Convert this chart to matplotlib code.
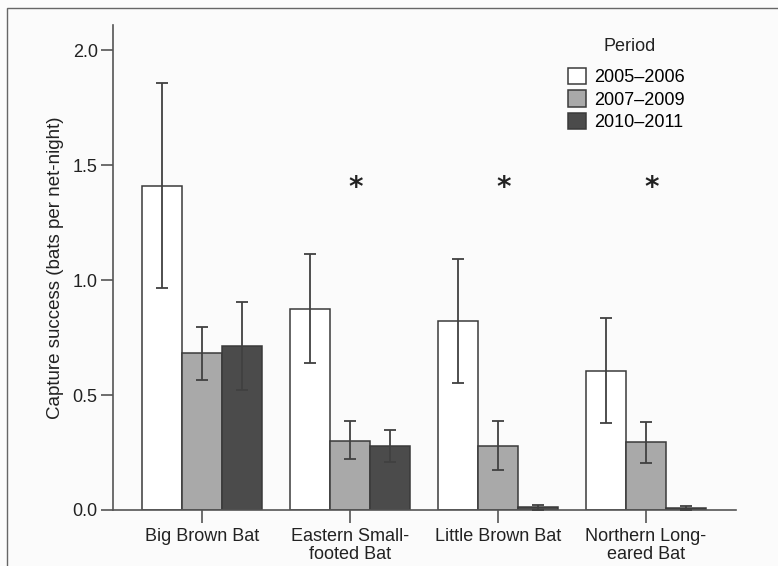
import matplotlib.pyplot as plt
import matplotlib.patches as mpatches
import numpy as np

plt.rcParams['font.family'] = ['Liberation Sans', 'DejaVu Sans']

# Datos
especies = ['Big Brown Bat', 'Eastern Small-\nfooted Bat', 'Little Brown Bat', 'Northern Long-\neared Bat']
periodos = ['2005\u20132006', '2007\u20132009', '2010\u20132011']

media_2005 = [1.41, 0.875, 0.822, 0.605]
media_2007 = [0.683, 0.30, 0.28, 0.296]
media_2010 = [0.713, 0.28, 0.012, 0.008]

inf_2005 = [0.965, 0.639, 0.552, 0.378]
sup_2005 = [1.855, 1.113, 1.091, 0.835]
inf_2007 = [0.567, 0.222, 0.172, 0.204]
sup_2007 = [0.796, 0.387, 0.386, 0.383]
inf_2010 = [0.522, 0.210, 0.002, 0.002]
sup_2010 = [0.904, 0.350, 0.022, 0.016]

significativo = [False, True, True, True]

colores = ['white', '#a9a9a9', '#4b4b4b']
borde = '#3a3a3a'
gris_eje = '#555555'

fig = plt.figure(figsize=(7.78, 5.66), dpi=100)
fig.patch.set_facecolor('#fbfbfb')
ax = fig.add_axes([113 / 778, 56 / 566, 623 / 778, 485 / 566])
ax.set_facecolor('#fbfbfb')

# Marco exterior (solo izquierda y arriba visibles)
fig.patches.append(mpatches.Rectangle((7 / 778, -0.1), 1.2, (566 - 8) / 566 + 0.1,
                                      transform=fig.transFigure, fill=False,
                                      edgecolor='#666666', linewidth=1.0))

x = np.arange(len(especies))
ancho = 0.27
medias = [media_2005, media_2007, media_2010]
inferiores = [inf_2005, inf_2007, inf_2010]
superiores = [sup_2005, sup_2007, sup_2010]

for i in range(3):
    pos = x + (i - 1) * ancho
    m = np.array(medias[i])
    err = [m - np.array(inferiores[i]), np.array(superiores[i]) - m]
    ax.bar(pos, m, ancho, color=colores[i], edgecolor=borde, linewidth=1.1,
           label=periodos[i], zorder=2)
    ax.errorbar(pos, m, yerr=err, fmt='none', ecolor='#404040', elinewidth=1.3,
                capsize=4, capthick=1.3, zorder=3)

for xi, sig in zip(x, significativo):
    if sig:
        ax.text(xi + 0.04, 1.40, '*', ha='center', va='center', fontsize=20,
                fontweight='bold', color='#222222', family='DejaVu Sans')

ax.set_xlim(-0.6, 3.61)
ax.set_ylim(0, 2.109)
ax.set_yticks([0.0, 0.5, 1.0, 1.5, 2.0])
ax.set_yticklabels(['0.0', '0.5', '1.0', '1.5', '2.0'])
ax.set_xticks(x)
ax.set_xticklabels(especies, linespacing=1.1)
ax.tick_params(axis='both', direction='out', length=9, width=1.2, color=gris_eje,
               labelsize=13, labelcolor='#222222', pad=2)
ax.tick_params(axis='x', pad=4)

for lado in ['top', 'right']:
    ax.spines[lado].set_visible(False)
for lado in ['left', 'bottom']:
    ax.spines[lado].set_color(gris_eje)
    ax.spines[lado].set_linewidth(1.2)

ax.set_ylabel('Capture success (bats per net-night)', fontsize=13.5, color='#222222',
              labelpad=6)

# Leyenda con titulo aparte
ax.text(0.83, 0.955, 'Period', transform=ax.transAxes, ha='center', va='center',
        fontsize=13, color='#222222')
ax.legend(loc='upper left', bbox_to_anchor=(0.731, 0.911), borderaxespad=0,
          borderpad=0, frameon=False, fontsize=13, handlelength=1.0,
          handleheight=1.0, handletextpad=0.4, labelspacing=0.22)

fig.savefig('out.png', dpi=100, facecolor=fig.get_facecolor())
